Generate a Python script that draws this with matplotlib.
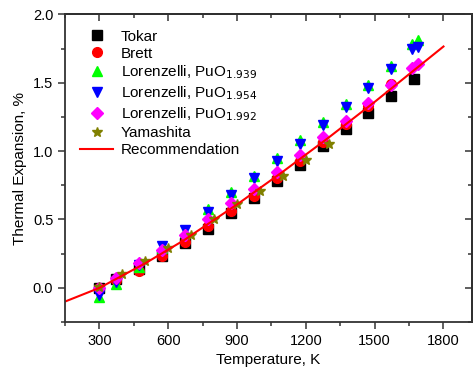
import matplotlib
matplotlib.use("Agg")
import matplotlib.pyplot as plt
from matplotlib.ticker import MultipleLocator

plt.rcParams['font.family'] = ['Liberation Sans', 'DejaVu Sans']

# data
t_tokar = [300, 373, 473, 573, 673, 773, 873, 973, 1073, 1173, 1273, 1373, 1473, 1573, 1673]
v_tokar = [0.0, 0.065, 0.14, 0.235, 0.33, 0.43, 0.545, 0.655, 0.78, 0.90, 1.035, 1.16, 1.28, 1.40, 1.53]

t_brett = [300, 373, 473, 573, 673, 773, 873, 973, 1073, 1173, 1273, 1373, 1473, 1573]
v_brett = [0.0, 0.06, 0.12, 0.23, 0.336, 0.45, 0.56, 0.674, 0.80, 0.93, 1.07, 1.20, 1.33, 1.49]

t_lor = [300, 373, 473, 573, 673, 773, 873, 973, 1073, 1173, 1273, 1373, 1473, 1573, 1663, 1690]
v_1939 = [-0.065, 0.025, 0.15, 0.29, 0.41, 0.575, 0.70, 0.82, 0.95, 1.08, 1.215, 1.345, 1.485, 1.625, 1.78, 1.81]
v_1954 = [-0.05, 0.04, 0.165, 0.305, 0.425, 0.555, 0.68, 0.80, 0.93, 1.055, 1.19, 1.32, 1.46, 1.60, 1.745, 1.765]
v_1992 = [0.0, 0.074, 0.18, 0.28, 0.39, 0.50, 0.62, 0.72, 0.845, 0.975, 1.10, 1.22, 1.35, 1.48, 1.61, 1.64]

t_yama = [300, 400, 500, 600, 700, 800, 900, 1000, 1100, 1200, 1300]
v_yama = [0.01, 0.10, 0.195, 0.29, 0.39, 0.50, 0.61, 0.71, 0.82, 0.935, 1.05]

t_rec = [150, 300, 500, 673, 700, 900, 1100, 1273, 1300, 1500, 1700, 1800]
v_rec = [-0.10, 0.0, 0.18, 0.353, 0.385, 0.61, 0.85, 1.066, 1.10, 1.36, 1.63, 1.765]

fig = plt.figure(figsize=(4.75, 3.78), dpi=100)
ax = fig.add_axes([0.137, 0.148, 0.857, 0.814])

ms = 7
ax.plot(t_tokar, v_tokar, 's', color='black', ms=ms-0.5, label='Tokar')
ax.plot(t_brett, v_brett, 'o', color='red', ms=ms, label='Brett')
ax.plot(t_lor, v_1939, '^', color='#00ff00', ms=ms+0.5, label='Lorenzelli, PuO$_{1.939}$')
ax.plot(t_lor, v_1954, 'v', color='blue', ms=ms+0.5, label='Lorenzelli, PuO$_{1.954}$')
ax.plot(t_lor, v_1992, 'D', color='magenta', ms=ms-1, label='Lorenzelli, PuO$_{1.992}$')
ax.plot(t_yama, v_yama, '*', color='#808000', ms=ms, label='Yamashita')
ax.plot(t_rec, v_rec, '-', color='red', lw=1.5, label='Recommendation')

ax.set_xlim(150, 1925)
ax.set_ylim(-0.25, 2.0)
ax.xaxis.set_major_locator(MultipleLocator(300))
ax.xaxis.set_minor_locator(MultipleLocator(150))
ax.yaxis.set_major_locator(MultipleLocator(0.5))
ax.yaxis.set_minor_locator(MultipleLocator(0.25))
ax.yaxis.set_major_formatter(plt.FormatStrFormatter('%.1f'))

for s in ax.spines.values():
    s.set_linewidth(1.3)
    s.set_color('#333333')

ax.tick_params(which='both', direction='out', labelsize=10.5, width=1.1, color='#333333')
ax.tick_params(which='major', length=5)
ax.tick_params(which='minor', length=3)

top = ax.secondary_xaxis('top')
top.xaxis.set_major_locator(MultipleLocator(300))
top.xaxis.set_minor_locator(MultipleLocator(150))
top.tick_params(which='both', direction='in', labeltop=False, width=1.1, color='#333333')
top.tick_params(which='major', length=5)
top.tick_params(which='minor', length=3)
top.spines['top'].set_linewidth(1.3)

right = ax.secondary_yaxis('right')
right.yaxis.set_major_locator(MultipleLocator(0.5))
right.yaxis.set_minor_locator(MultipleLocator(0.25))
right.tick_params(which='both', direction='in', labelright=False, width=1.1, color='#333333')
right.tick_params(which='major', length=5)
right.tick_params(which='minor', length=3)
right.spines['right'].set_linewidth(1.3)

ax.set_xlabel('Temperature, K', fontsize=11)
ax.set_ylabel('Thermal Expansion, %', fontsize=11)

ax.legend(loc='upper left', bbox_to_anchor=(0.01, 0.985), frameon=False, fontsize=11,
          handlelength=2.2, handletextpad=0.5, labelspacing=0.2, borderaxespad=0.3)

fig.savefig('out.png', dpi=100)
